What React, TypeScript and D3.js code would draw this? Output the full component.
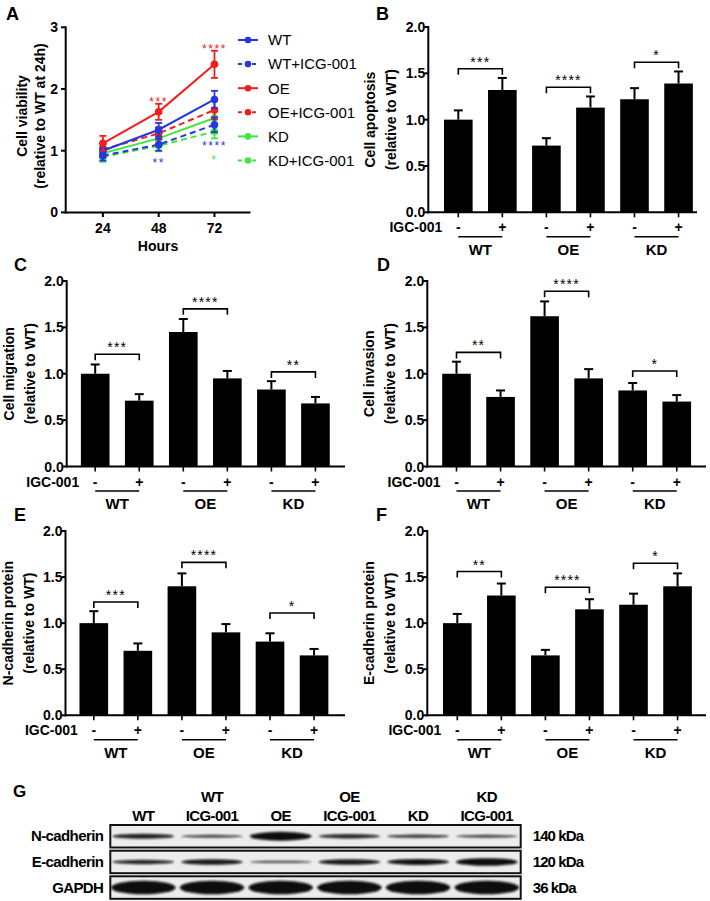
import React from "react";
import * as d3 from "d3";

// ---------- Panel A data ----------
const hours = [24, 48, 72];
const seriesNames = ["WT", "WT+ICG-001", "OE", "OE+ICG-001", "KD", "KD+ICG-001"];
const viaWT = [1.0, 1.34, 1.83];
const viaWTErr = [0.06, 0.11, 0.14];
const viaWTICG = [0.92, 1.1, 1.42];
const viaWTICGErr = [0.08, 0.1, 0.12];
const viaOE = [1.12, 1.63, 2.4];
const viaOEErr = [0.12, 0.13, 0.22];
const viaOEICG = [1.02, 1.28, 1.66];
const viaOEICGErr = [0.09, 0.1, 0.15];
const viaKD = [0.96, 1.2, 1.53];
const viaKDErr = [0.08, 0.1, 0.13];
const viaKDICG = [0.9, 1.08, 1.31];
const viaKDICGErr = [0.08, 0.09, 0.11];
const viaTicks = [0, 1, 2, 3];
// significance marks: series index, hour, value (centre), text
const sigSeries = [2, 2, 1, 1, 5];
const sigHours = [48, 72, 48, 72, 72];
const sigValues = [1.84, 2.7, 0.85, 1.12, 0.89];
const sigTexts = ["***", "****", "**", "****", "*"];

// ---------- Bar panels data ----------
const groups = ["WT", "OE", "KD"];
const treatment = ["-", "+", "-", "+", "-", "+"];
const barTicks = [0, 0.5, 1.0, 1.5, 2.0];
const apoptosisMean = [1.0, 1.32, 0.72, 1.13, 1.22, 1.39];
const apoptosisErr = [0.1, 0.13, 0.08, 0.12, 0.12, 0.13];
const apoptosisBracket = [1.55, 1.35, 1.62];
const apoptosisStars = ["***", "****", "*"];
const migrationMean = [1.0, 0.71, 1.45, 0.95, 0.83, 0.68];
const migrationErr = [0.1, 0.07, 0.14, 0.08, 0.09, 0.07];
const migrationBracket = [1.21, 1.7, 1.02];
const migrationStars = ["***", "****", "**"];
const invasionMean = [1.0, 0.75, 1.62, 0.95, 0.82, 0.7];
const invasionErr = [0.13, 0.07, 0.16, 0.1, 0.08, 0.07];
const invasionBracket = [1.23, 1.89, 1.03];
const invasionStars = ["**", "****", "*"];
const nCadMean = [1.0, 0.7, 1.4, 0.9, 0.8, 0.65];
const nCadErr = [0.13, 0.08, 0.14, 0.09, 0.09, 0.07];
const nCadBracket = [1.23, 1.66, 1.11];
const nCadStars = ["***", "****", "*"];
const eCadMean = [1.0, 1.3, 0.65, 1.15, 1.2, 1.4];
const eCadErr = [0.1, 0.13, 0.06, 0.11, 0.12, 0.14];
const eCadBracket = [1.56, 1.39, 1.65];
const eCadStars = ["**", "****", "*"];

// ---------- Panel G data ----------
const laneTop = ["", "WT", "", "OE", "", "KD"];
const laneBottom = ["WT", "ICG-001", "OE", "ICG-001", "KD", "ICG-001"];
const blotRows = ["N-cadherin", "E-cadherin", "GAPDH"];
const blotSizes = ["140 kDa", "120 kDa", "36 kDa"];
const nCadBand = [1.0, 0.72, 1.5, 0.95, 0.78, 0.72];
const eCadBand = [0.95, 1.1, 0.62, 1.1, 1.15, 1.35];
const gapdhBand = [1, 1, 1, 1, 1, 1];

const FONT = "'Liberation Sans', Arial, Helvetica, sans-serif";
const BLUE = "#2438e0";
const RED = "#f51c1c";
const GREEN = "#3fe83f";

function PanelA() {
  const x = d3.scaleLinear().domain([8, 87.5]).range([65.7, 250.5]);
  const y = d3.scaleLinear().domain([0, 3]).range([212.4, 27.3]);
  const means = [viaWT, viaWTICG, viaOE, viaOEICG, viaKD, viaKDICG];
  const errs = [viaWTErr, viaWTICGErr, viaOEErr, viaOEICGErr, viaKDErr, viaKDICGErr];
  const colors = [BLUE, BLUE, RED, RED, GREEN, GREEN];
  const dashed = [false, true, false, true, false, true];
  const line = d3
    .line<number>()
    .x((_, i) => x(hours[i]))
    .y((d) => y(d));
  const order = [5, 4, 3, 1, 0, 2];
  return (
    <g>
      <text x={6} y={20} fontSize={18} fontWeight="bold" fontFamily={FONT}>A</text>
      {order.map((s) => (
        <g key={s}>
          <path d={line(means[s]) || ""} fill="none" stroke={colors[s]} strokeWidth={2}
            strokeDasharray={dashed[s] ? "6,4" : undefined} />
          {means[s].map((v, i) => (
            <g key={i}>
              <line x1={x(hours[i])} x2={x(hours[i])} y1={y(v - errs[s][i])} y2={y(v + errs[s][i])} stroke={colors[s]} strokeWidth={1.8} />
              <line x1={x(hours[i]) - 3.5} x2={x(hours[i]) + 3.5} y1={y(v + errs[s][i])} y2={y(v + errs[s][i])} stroke={colors[s]} strokeWidth={1.8} />
              <line x1={x(hours[i]) - 3.5} x2={x(hours[i]) + 3.5} y1={y(v - errs[s][i])} y2={y(v - errs[s][i])} stroke={colors[s]} strokeWidth={1.8} />
              <circle cx={x(hours[i])} cy={y(v)} r={3.8} fill={colors[s]} />
            </g>
          ))}
        </g>
      ))}
      {sigTexts.map((t, i) => (
        <text key={i} x={x(sigHours[i])} y={y(sigValues[i]) + 7} textAnchor="middle" fontSize={12}
          fill={colors[sigSeries[i]]} fontFamily={FONT} letterSpacing={1.6}>{t}</text>
      ))}
      {/* axes */}
      <line x1={65.7} x2={65.7} y1={26.3} y2={213.4} stroke="#000" strokeWidth={2} />
      <line x1={64.7} x2={250.5} y1={212.4} y2={212.4} stroke="#000" strokeWidth={2} />
      {viaTicks.map((t) => (
        <g key={t}>
          <line x1={61} x2={65.7} y1={y(t)} y2={y(t)} stroke="#000" strokeWidth={2} />
          <text x={58} y={y(t) + 5} textAnchor="end" fontSize={14} fontWeight="bold" fontFamily={FONT}>{t}</text>
        </g>
      ))}
      {hours.map((h) => (
        <g key={h}>
          <line x1={x(h)} x2={x(h)} y1={212.4} y2={217} stroke="#000" strokeWidth={2} />
          <text x={x(h)} y={232.5} textAnchor="middle" fontSize={14} fontWeight="bold" fontFamily={FONT}>{h}</text>
        </g>
      ))}
      <text x={158} y={250.5} textAnchor="middle" fontSize={14} fontWeight="bold" fontFamily={FONT}>Hours</text>
      <text transform="translate(26.5,116) rotate(-90)" textAnchor="middle" fontSize={14} fontWeight="bold" fontFamily={FONT}>Cell viability</text>
      <text transform="translate(45,116) rotate(-90)" textAnchor="middle" fontSize={14} fontWeight="bold" fontFamily={FONT}>(relative to WT at 24h)</text>
      {/* legend */}
      {seriesNames.map((n, i) => (
        <g key={n} transform={`translate(0,${40 + 24.1 * i})`}>
          <line x1={238} x2={258} y1={0} y2={0} stroke={colors[i]} strokeWidth={2} strokeDasharray={dashed[i] ? "4,3" : undefined} />
          <circle cx={248} cy={0} r={3.3} fill={colors[i]} />
          <text x={268} y={5.3} fontSize={15} fontFamily={FONT}>{n}</text>
        </g>
      ))}
    </g>
  );
}

type BarProps = {
  letter: string;
  letterX: number;
  letterY: number;
  x0: number;
  yTop: number;
  yBot: number;
  firstCenter: number;
  axisEnd: number;
  means: number[];
  errs: number[];
  brackets: number[];
  stars: string[];
  label1: string;
  label2: string;
};

function BarPanel(p: BarProps) {
  const step = 44.05;
  const x = d3
    .scaleBand<number>()
    .domain(d3.range(6))
    .range([p.firstCenter - step / 2, p.firstCenter - step / 2 + 6 * step])
    .paddingInner(0.35)
    .paddingOuter(0.175);
  const bw = x.bandwidth();
  const cx = (i: number) => (x(i) as number) + bw / 2;
  const y = d3.scaleLinear().domain([0, 2]).range([p.yBot, p.yTop]);
  const cyMid = (p.yTop + p.yBot) / 2;
  return (
    <g>
      <text x={p.letterX} y={p.letterY} fontSize={18} fontWeight="bold" fontFamily={FONT}>{p.letter}</text>
      {p.means.map((m, i) => (
        <g key={i}>
          <rect x={x(i)} y={y(m)} width={bw} height={p.yBot - y(m)} fill="#000" />
          <line x1={cx(i)} x2={cx(i)} y1={y(m)} y2={y(m + p.errs[i])} stroke="#000" strokeWidth={2} />
          <line x1={cx(i) - 4.5} x2={cx(i) + 4.5} y1={y(m + p.errs[i])} y2={y(m + p.errs[i])} stroke="#000" strokeWidth={2} />
        </g>
      ))}
      {p.brackets.map((b, g) => {
        const a = cx(2 * g);
        const c = cx(2 * g + 1);
        const yb = y(b);
        return (
          <g key={g}>
            <path d={`M${a},${yb + 6}V${yb}H${c}V${yb + 6}`} fill="none" stroke="#000" strokeWidth={1.6} />
            <text x={(a + c) / 2} y={yb - 2} textAnchor="middle" fontSize={14} fontFamily={FONT} letterSpacing={1.2}>{p.stars[g]}</text>
          </g>
        );
      })}
      <line x1={p.x0} x2={p.x0} y1={p.yTop - 1} y2={p.yBot + 1} stroke="#000" strokeWidth={2} />
      <line x1={p.x0 - 1} x2={p.axisEnd} y1={p.yBot} y2={p.yBot} stroke="#000" strokeWidth={2} />
      {barTicks.map((t) => (
        <g key={t}>
          <line x1={p.x0 - 4} x2={p.x0} y1={y(t)} y2={y(t)} stroke="#000" strokeWidth={2} />
          <text x={p.x0 - 3} y={y(t) + 5} textAnchor="end" fontSize={14} fontWeight="bold" fontFamily={FONT}>{t.toFixed(1)}</text>
        </g>
      ))}
      {treatment.map((t, i) => (
        <g key={i}>
          <line x1={cx(i)} x2={cx(i)} y1={p.yBot} y2={p.yBot + 5} stroke="#000" strokeWidth={1.6} />
          <text x={cx(i)} y={p.yBot + 20} textAnchor="middle" fontSize={14} fontWeight="bold" fontFamily={FONT}>{t}</text>
        </g>
      ))}
      <text x={p.firstCenter - 16} y={p.yBot + 20} textAnchor="end" fontSize={14} fontWeight="bold" fontFamily={FONT}>IGC-001</text>
      {groups.map((g, k) => (
        <g key={g}>
          <line x1={cx(2 * k)} x2={cx(2 * k + 1)} y1={p.yBot + 24.5} y2={p.yBot + 24.5} stroke="#000" strokeWidth={1.6} />
          <text x={(cx(2 * k) + cx(2 * k + 1)) / 2} y={p.yBot + 42.5} textAnchor="middle" fontSize={15} fontWeight="bold" fontFamily={FONT}>{g}</text>
        </g>
      ))}
      <text transform={`translate(${p.x0 - 53},${cyMid}) rotate(-90)`} textAnchor="middle" fontSize={14} fontWeight="bold" fontFamily={FONT}>{p.label1}</text>
      <text transform={`translate(${p.x0 - 32},${cyMid}) rotate(-90)`} textAnchor="middle" fontSize={14} fontWeight="bold" fontFamily={FONT}>{p.label2}</text>
    </g>
  );
}

function PanelG() {
  const x = d3.scaleBand<number>().domain(d3.range(6)).range([109.3, 521.7]).paddingInner(0.1).paddingOuter(0.05);
  const step = x.step();
  const lc = (i: number) => 143.3 + i * 68.7;
  const rowTop = [825, 850.7, 876.3];
  const rowH = 22.5;
  const bands = [nCadBand, eCadBand, gapdhBand];
  const baseHalf = [2.4, 2.4, 6.8];
  return (
    <g>
      <defs>
        <filter id="blur" x="-20%" y="-100%" width="140%" height="300%">
          <feGaussianBlur stdDeviation="0.9" />
        </filter>
      </defs>
      <text x={13} y={797} fontSize={17} fontWeight="bold" fontFamily={FONT} letterSpacing={-0.5}>G</text>
      {laneBottom.map((t, i) => (
        <g key={i}>
          {laneTop[i] && (
            <text x={lc(i)} y={802} textAnchor="middle" fontSize={15} fontWeight="bold" fontFamily={FONT} letterSpacing={-0.6}>{laneTop[i]}</text>
          )}
          <text x={lc(i)} y={820.5} textAnchor="middle" fontSize={15} fontWeight="bold" fontFamily={FONT} letterSpacing={-0.6}>{t}</text>
        </g>
      ))}
      {blotRows.map((r, k) => (
        <g key={r}>
          <rect x={110.3} y={rowTop[k]} width={410.4} height={rowH} fill="#ececec" stroke="#111" strokeWidth={2} />
          {bands[k].map((v, i) => {
            const half = baseHalf[k] * (k === 2 ? 1 : Math.sqrt(v) * v);
            const op = k === 2 ? 1 : Math.min(1, 0.45 + 0.45 * v);
            return (
              <ellipse key={i} cx={lc(i)} cy={rowTop[k] + rowH / 2} rx={(k === 2 ? 0.47 : 0.45) * step} ry={half}
                fill="#0a0a0a" opacity={op} filter="url(#blur)" />
            );
          })}
          <text x={103.3} y={rowTop[k] + rowH / 2 + 5} textAnchor="end" fontSize={15} fontWeight="bold" fontFamily={FONT} letterSpacing={-0.6}>{r}</text>
          <text x={532.7} y={rowTop[k] + rowH / 2 + 5} fontSize={15} fontWeight="bold" fontFamily={FONT} letterSpacing={-0.9}>{blotSizes[k]}</text>
        </g>
      ))}
    </g>
  );
}

export default function App() {
  return (
    <svg width={710} height={901} style={{ position: "absolute", left: 0, top: 0, background: "#fff" }}>
      <rect width={710} height={901} fill="#fff" />
      <PanelA />
      <BarPanel letter="B" letterX={376} letterY={20} x0={428.3} yTop={27} yBot={212.3} firstCenter={458.3} axisEnd={697}
        means={apoptosisMean} errs={apoptosisErr} brackets={apoptosisBracket} stars={apoptosisStars}
        label1="Cell apoptosis" label2="(relative to WT)" />
      <BarPanel letter="C" letterX={14} letterY={271} x0={66.7} yTop={281} yBot={466.5} firstCenter={95.2} axisEnd={345}
        means={migrationMean} errs={migrationErr} brackets={migrationBracket} stars={migrationStars}
        label1="Cell migration" label2="(relative to WT)" />
      <BarPanel letter="D" letterX={377} letterY={271} x0={427.3} yTop={281} yBot={466.5} firstCenter={456.5} axisEnd={706}
        means={invasionMean} errs={invasionErr} brackets={invasionBracket} stars={invasionStars}
        label1="Cell invasion" label2="(relative to WT)" />
      <BarPanel letter="E" letterX={14} letterY={521} x0={65.5} yTop={531} yBot={715.3} firstCenter={93.8} axisEnd={345}
        means={nCadMean} errs={nCadErr} brackets={nCadBracket} stars={nCadStars}
        label1="N-cadherin protein" label2="(relative to WT)" />
      <BarPanel letter="F" letterX={376} letterY={521} x0={427.3} yTop={531} yBot={715.3} firstCenter={457.3} axisEnd={706}
        means={eCadMean} errs={eCadErr} brackets={eCadBracket} stars={eCadStars}
        label1="E-cadherin protein" label2="(relative to WT)" />
      <PanelG />
    </svg>
  );
}
